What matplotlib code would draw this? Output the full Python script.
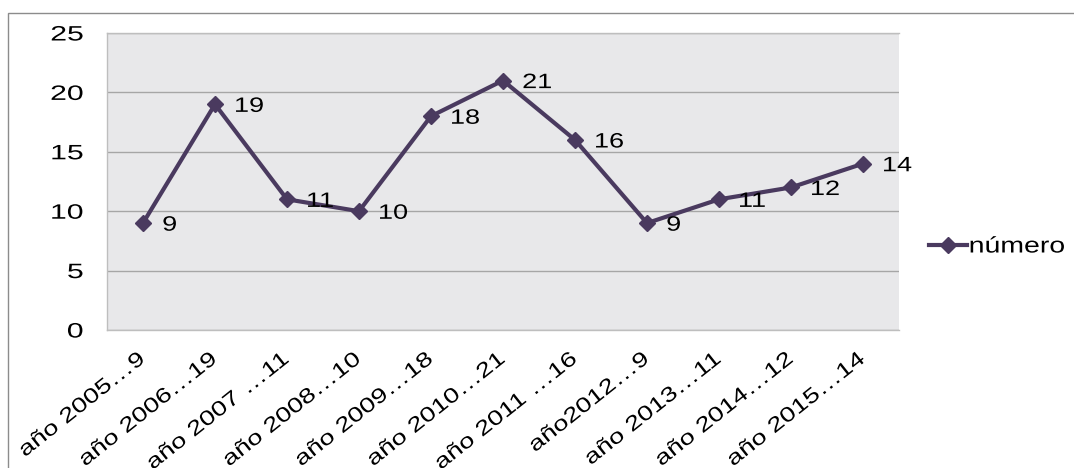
import matplotlib.pyplot as plt
from matplotlib.patches import Rectangle
from matplotlib.patheffects import AbstractPathEffect
from matplotlib.transforms import Affine2D

plt.rcParams['font.family'] = ['Liberation Sans', 'DejaVu Sans']

labels = ['año 2005…9', 'año 2006…19', 'año 2007 …11', 'año 2008…10', 'año 2009…18',
          'año 2010…21', 'año 2011 …16', 'año2012…9', 'año 2013…11', 'año 2014…12',
          'año 2015…14']
numero = [9, 19, 11, 10, 18, 21, 16, 9, 11, 12, 14]

line_color = '#4A3A5F'
W, H = 1074, 468


class Stretch(AbstractPathEffect):
    """Widen text glyphs horizontally (the reference text is stretched)."""

    def __init__(self, sx, frac=0.0):
        super().__init__()
        self.sx = sx
        self.frac = frac  # 0 keeps the left end in place, 1 keeps the right end

    def draw_path(self, renderer, gc, tpath, affine, rgbFace=None):
        ext = tpath.get_extents()
        cx = ext.x0 + (ext.x1 - ext.x0) * self.frac
        pre = Affine2D().translate(-cx, 0).scale(self.sx, 1).translate(cx, 0)
        renderer.draw_path(gc, tpath, pre + affine, rgbFace)


fig = plt.figure(figsize=(W / 100, H / 100), dpi=100)
# plot area in pixels: x 107..899, y 33..330
ax = fig.add_axes([107 / W, 1 - 330 / H, (899 - 107) / W, (330 - 33) / H])
ax.set_facecolor('#E8E8EA')

x = list(range(len(numero)))
ax.plot(x, numero, color=line_color, lw=3, marker='D', markersize=8,
        label='número', zorder=3)
for xi, v in zip(x, numero):
    t = ax.annotate(str(v), (xi, v), xytext=(14, -1.5), textcoords='offset points',
                    ha='left', va='center', fontsize=15, color='black', zorder=4)
    t.set_path_effects([Stretch(1.3, 0)])

ax.set_xlim(-0.5, len(numero) - 0.5)
ax.set_ylim(0, 25)
ax.set_yticks([0, 5, 10, 15, 20, 25])
ax.set_xticks(x)
ax.set_xticklabels(labels, rotation=38.5, ha='right', va='center',
                   rotation_mode='anchor', fontsize=15)
ax.tick_params(axis='both', length=0)
ax.tick_params(axis='y', pad=17, labelsize=15)
ax.tick_params(axis='x', pad=19)
for lbl in ax.get_yticklabels():
    lbl.set_path_effects([Stretch(1.45, 1)])
for lbl in ax.get_xticklabels():
    lbl.set_path_effects([Stretch(1.3, 1)])

ax.grid(axis='y', color='#A6A6A6', lw=1)
ax.set_axisbelow(True)
for s in ax.spines.values():
    s.set_color('#BEBEBE')
    s.set_linewidth(1)
ax.spines['right'].set_visible(False)

leg = ax.legend(loc='center left', bbox_to_anchor=(918 / W, 1 - 247 / H),
                bbox_transform=fig.transFigure, frameon=False, fontsize=16,
                handlelength=1.7, handletextpad=0.1, borderpad=0)
for t in leg.get_texts():
    t.set_path_effects([Stretch(1.28, 0)])

# outer chart border
fig.patches.append(Rectangle((8 / W, -0.1), 1.2, 1 - 13 / H + 0.1,
                             transform=fig.transFigure, fill=False,
                             edgecolor='#8C8C8C', lw=1))

fig.savefig('out.png', dpi=100)
